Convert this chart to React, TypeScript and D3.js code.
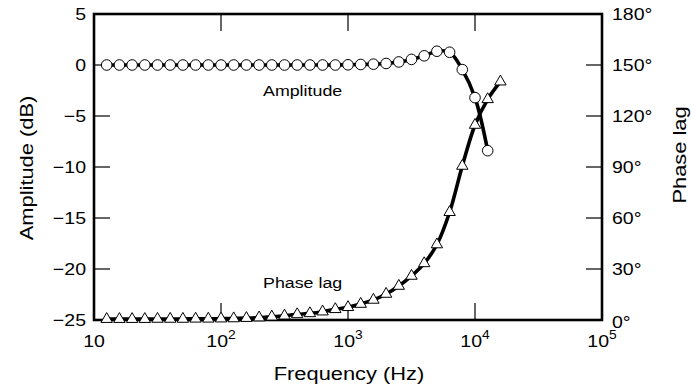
import React from 'react';
import * as d3 from 'd3';

// log10 of frequency for each measured point (0.1 decade steps)
const ampLogF = [1.1, 1.2, 1.3, 1.4, 1.5, 1.6, 1.7, 1.8, 1.9, 2.0, 2.1, 2.2, 2.3, 2.4, 2.5, 2.6, 2.7, 2.8, 2.9, 3.0,
  3.1, 3.2, 3.3, 3.4, 3.5, 3.6, 3.7, 3.8, 3.9, 4.0, 4.1];
const ampDb = [0, 0, 0, 0, 0, 0, 0, 0, 0, 0, 0, 0, 0, 0, 0, 0, 0, 0, 0, 0.02,
  0.05, 0.08, 0.15, 0.3, 0.55, 0.9, 1.35, 1.25, -0.45, -3.2, -8.4];

const phaseLogF = [1.1, 1.2, 1.3, 1.4, 1.5, 1.6, 1.7, 1.8, 1.9, 2.0, 2.1, 2.2, 2.3, 2.4, 2.5, 2.6, 2.7, 2.8, 2.9, 3.0,
  3.1, 3.2, 3.3, 3.4, 3.5, 3.6, 3.7, 3.8, 3.9, 4.0, 4.1, 4.2];
const phaseDeg = [0.5, 0.5, 0.5, 0.5, 0.6, 0.6, 0.6, 0.7, 0.7, 0.8, 0.9, 1.1, 1.4, 1.9, 2.5, 3.3, 3.9, 4.9, 6.3, 7.5,
  9.4, 11.8, 15.3, 20, 25.9, 33.3, 44.4, 63.4, 90.6, 114.7, 129.8, 140.2];

const xDecades = [1, 2, 3, 4, 5];
const ampTicks = [5, 0, -5, -10, -15, -20, -25];
const phaseTicks = [0, 30, 60, 90, 120, 150, 180];

const W = 691, H = 385;
const m = { left: 94, right: 602, top: 14, bottom: 320 };
const font = 'Arial, "Liberation Sans", Helvetica, sans-serif';
const SX = 1.15; // the original lettering is a little wide

// text drawn at (x, y), optionally rotated, stretched horizontally
function T({ x, y, rot = 0, size, anchor = 'start', children }: any) {
  return (
    <text transform={`translate(${x},${y}) rotate(${rot}) scale(${SX},1)`} fontSize={size} textAnchor={anchor}>
      {children}
    </text>
  );
}

export default function App() {
  const x = d3.scaleLinear().domain([1, 5]).range([m.left, m.right]);
  const yA = d3.scaleLinear().domain([-25, 5]).range([m.bottom, m.top]);
  const yP = d3.scaleLinear().domain([0, 180]).range([m.bottom, m.top]);

  const ampPts: [number, number][] = ampLogF.map((f, i) => [x(f), yA(ampDb[i])]);
  const phPts: [number, number][] = phaseLogF.map((f, i) => [x(f), yP(phaseDeg[i])]);
  const line = d3.line().curve(d3.curveCatmullRom.alpha(0.5));

  const tri = d3.symbol().type(d3.symbolTriangle).size(56)();
  const fmt = (v: number) => (v < 0 ? '\u2212' + Math.abs(v) : String(v));

  return (
    <svg width={W} height={H} style={{ position: 'absolute', left: 0, top: 0 }} fontFamily={font}>
      <rect width={W} height={H} fill="#fff" />
      {/* inner ticks */}
      {xDecades.slice(1, -1).map(d => (
        <g key={'xt' + d} stroke="#000" strokeWidth={1.2}>
          <line x1={x(d)} x2={x(d)} y1={m.bottom} y2={m.bottom - 17} />
          <line x1={x(d)} x2={x(d)} y1={m.top} y2={m.top + 17} />
        </g>
      ))}
      {ampTicks.slice(1, -1).map(v => (
        <line key={'ya' + v} x1={m.left} x2={m.left + 16} y1={yA(v)} y2={yA(v)} stroke="#000" strokeWidth={1.2} />
      ))}
      {phaseTicks.slice(1, -1).map(v => (
        <line key={'yp' + v} x1={m.right} x2={m.right - 16} y1={yP(v)} y2={yP(v)} stroke="#000" strokeWidth={1.2} />
      ))}
      <rect x={m.left} y={m.top} width={m.right - m.left} height={m.bottom - m.top} fill="none" stroke="#000" strokeWidth={2.6} />

      {/* curves */}
      <path d={line(ampPts) || ''} fill="none" stroke="#000" strokeWidth={3.6} />
      <path d={line(phPts) || ''} fill="none" stroke="#000" strokeWidth={3.6} />
      {ampPts.map((p, i) => (
        <circle key={'c' + i} cx={p[0]} cy={p[1]} r={5.3} fill="#fff" stroke="#000" strokeWidth={1} />
      ))}
      {phPts.map((p, i) => (
        <path key={'t' + i} d={tri || ''} transform={`translate(${p[0]},${p[1]})`} fill="#fff" stroke="#000" strokeWidth={1} />
      ))}

      {/* tick labels */}
      {ampTicks.map(v => (
        <T key={'la' + v} x={86} y={yA(v) + 6} size={17} anchor="end">{fmt(v)}</T>
      ))}
      {phaseTicks.map(v => (
        <T key={'lp' + v} x={612} y={yP(v) + 6 + (v === 0 ? 2 : 0)} size={17}>{v}°</T>
      ))}
      {xDecades.map(d => (
        <T key={'lx' + d} x={x(d)} y={347} size={17} anchor="middle">
          10{d > 1 ? <tspan dy={-8} fontSize={12}>{d}</tspan> : null}
        </T>
      ))}

      {/* titles */}
      <T x={349} y={380} size={19} anchor="middle">Frequency (Hz)</T>
      <T x={33} y={168} rot={-90} size={19} anchor="middle">Amplitude (dB)</T>
      <T x={686} y={155} rot={-90} size={19} anchor="middle">Phase lag</T>
      <T x={263} y={96} size={15.5}>Amplitude</T>
      <T x={263} y={288} size={15.5}>Phase lag</T>
    </svg>
  );
}
